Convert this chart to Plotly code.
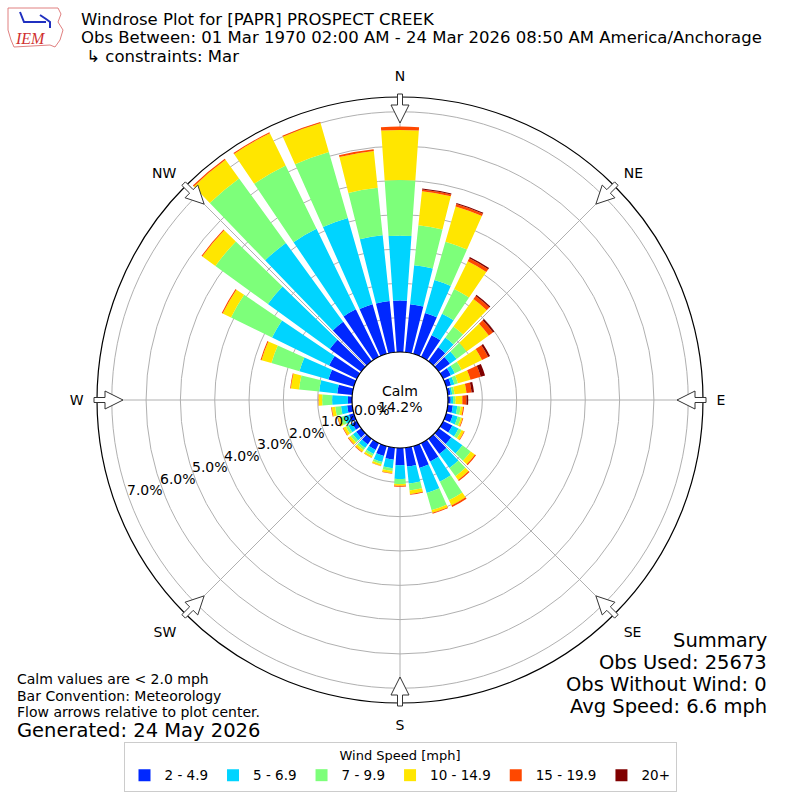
"""Windrose for PAPR (Prospect Creek), March obs, redrawn with plotly barpolar."""
import numpy as np
import plotly.graph_objects as go

W = H = 800
CX, CY = 400, 400        # plot centre, px
R_OUT, R_HOLE = 303, 48  # outer circle and calm hole radius, px

directions = list(range(0, 360, 10))
bins = ["2 - 4.9", "5 - 6.9", "7 - 9.9", "10 - 14.9", "15 - 19.9", "20+"]
colors = ["#0028ff", "#00d4ff", "#7dff7a", "#ffe600", "#ff4800", "#800000"]

# percent of obs in each speed bin, one value per 10 deg direction (0 = N)
spd_2_5 = [1.50, 1.41, 1.24, 0.70, 0.50, 0.40, 0.25, 0.15, 0.08, 0.08, 0.15, 0.20,
           0.30, 0.45, 0.55, 0.60, 0.66, 0.55, 0.50, 0.35, 0.30, 0.22, 0.20, 0.18,
           0.15, 0.15, 0.15, 0.12, 0.44, 0.77, 0.90, 1.13, 1.42, 1.54, 1.50, 1.50]
spd_5_7 = [1.89, 1.14, 1.00, 0.70, 0.35, 0.24, 0.13, 0.10, 0.05, 0.07, 0.13, 0.15,
           0.20, 0.40, 0.50, 0.65, 0.76, 0.50, 0.40, 0.25, 0.18, 0.13, 0.13, 0.12,
           0.13, 0.15, 0.18, 0.46, 0.53, 0.88, 1.85, 2.23, 2.84, 2.61, 2.62, 1.93]
spd_7_10 = [1.62, 1.17, 1.16, 0.80, 0.40, 0.36, 0.22, 0.11, 0.07, 0.07, 0.10, 0.10,
            0.10, 0.30, 0.30, 0.60, 0.52, 0.20, 0.15, 0.08, 0.07, 0.07, 0.07, 0.08,
            0.08, 0.10, 0.17, 0.29, 0.59, 0.85, 1.33, 1.89, 2.32, 2.05, 2.00, 1.39]
spd_10_15 = [1.46, 1.00, 1.07, 0.90, 0.99, 0.80, 0.66, 0.38, 0.35, 0.20, 0.07, 0.05,
             0.08, 0.15, 0.13, 0.17, 0.08, 0.11, 0.05, 0.07, 0.05, 0.05, 0.07, 0.08,
             0.08, 0.08, 0.10, 0.10, 0.24, 0.30, 0.27, 0.47, 0.67, 1.05, 0.88, 1.08]
spd_15_20 = [0.10, 0.05, 0.07, 0.10, 0.11, 0.15, 0.20, 0.31, 0.15, 0.12, 0.03, 0.02,
             0.02, 0.04, 0.04, 0.05, 0.03, 0.02, 0.03, 0.01, 0.01, 0.01, 0.02, 0.02,
             0.02, 0.02, 0.02, 0.01, 0.02, 0.03, 0.03, 0.03, 0.04, 0.03, 0.03, 0.05]
spd_20p = [0.00, 0.03, 0.03, 0.04, 0.04, 0.05, 0.06, 0.13, 0.07, 0.05, 0.00, 0.00,
           0.00, 0.00, 0.00, 0.00, 0.00, 0.00, 0.00, 0.00, 0.00, 0.00, 0.00, 0.00,
           0.00, 0.00, 0.00, 0.00, 0.00, 0.00, 0.00, 0.00, 0.00, 0.00, 0.00, 0.00]
series = [spd_2_5, spd_5_7, spd_7_10, spd_10_15, spd_15_20, spd_20p]

calm_pct = 14.2
rticks = [0, 1, 2, 3, 4, 5, 6, 7]
rmax = 7.43
compass = ["N", "NE", "E", "SE", "S", "SW", "W", "NW"]
compass_deg = [0, 45, 90, 135, 180, 225, 270, 315]

FONT = "DejaVu Sans"


def px(x):
    return x / W


def py(y):
    return 1 - y / H


def pathstr(pts):
    return "M " + " L ".join(f"{px(x):.5f},{py(y):.5f}" for x, y in pts)


fig = go.Figure()
for name, vals, col in zip(bins, series, colors):
    fig.add_trace(go.Barpolar(r=vals, theta=directions, width=8, name=name,
                              marker=dict(color=col, line=dict(width=0))))

dom = [px(CX - R_OUT), px(CX + R_OUT)]
fig.update_layout(
    width=W, height=H, margin=dict(l=0, r=0, t=0, b=0),
    paper_bgcolor="white", font=dict(family=FONT, color="black"),
    polar=dict(
        domain=dict(x=dom, y=dom), hole=R_HOLE / R_OUT, bgcolor="white",
        barmode="stack", bargap=0,
        radialaxis=dict(range=[0, rmax], tickvals=rticks, showticklabels=False,
                        showline=False, ticks="", gridcolor="#b0b0b0", gridwidth=1),
        angularaxis=dict(rotation=90, direction="clockwise", tickvals=compass_deg,
                         ticktext=compass, showline=True, linecolor="black",
                         linewidth=1.2, gridcolor="#b0b0b0", gridwidth=1,
                         ticks="outside", ticklen=10, tickcolor="rgba(0,0,0,0)",
                         tickfont=dict(size=14, family=FONT)),
    ),
    legend=dict(orientation="h", x=0.5, xanchor="center", y=py(742), yanchor="top",
                bgcolor="white", bordercolor="#cccccc", borderwidth=1,
                title=dict(text="Wind Speed [mph]", side="top center",
                           font=dict(size=13)),
                font=dict(size=13.5), itemwidth=30),
)

# hollow flow arrows at the compass points, pointing inwards
shapes = []
for d in compass_deg:
    a = np.radians(d)
    u = np.array([np.sin(a), -np.cos(a)])
    p = np.array([np.cos(a), np.sin(a)])
    c = np.array([CX, CY])
    pts = [c + u * 306 - p * 2.5, c + u * 295 - p * 2.5, c + u * 295 - p * 9,
           c + u * 277, c + u * 295 + p * 9, c + u * 295 + p * 2.5,
           c + u * 306 + p * 2.5]
    shapes.append(dict(type="path", xref="paper", yref="paper", path=pathstr(pts) + " Z",
                       fillcolor="white", line=dict(color="#333333", width=1)))

# rough IEM logo: state outline plus a little blue station symbol
logo = [(8, 8), (58, 8), (61, 14), (58, 22), (63, 30), (60, 40), (55, 47), (50, 45),
        (14, 47), (11, 40), (8, 30), (8, 8)]
shapes.append(dict(type="path", xref="paper", yref="paper", path=pathstr(logo) + " Z",
                   line=dict(color="#e08080", width=1)))
shapes.append(dict(type="path", xref="paper", yref="paper",
                   path=pathstr([(20, 12), (24, 22), (46, 22)]),
                   line=dict(color="#2030c0", width=2)))
shapes.append(dict(type="path", xref="paper", yref="paper",
                   path=pathstr([(40, 15), (46, 19), (50, 22), (50, 28)]),
                   line=dict(color="#2030c0", width=2)))
fig.update_layout(shapes=shapes)


def note(text, x, y, size, xanchor="left", **kw):
    fig.add_annotation(text=text, x=px(x), y=py(y), xref="paper", yref="paper",
                       xanchor=xanchor, yanchor="middle", showarrow=False, borderpad=0,
                       font=dict(size=size, family=kw.pop("family", FONT),
                                 color=kw.pop("color", "black")), **kw)


# radial tick labels, placed along the 200 deg line like matplotlib does
for t in rticks:
    rpx = R_HOLE + (R_OUT - R_HOLE) * t / rmax - 18
    ang = np.radians(19.5)
    note(f"{t:.1f}%", CX - rpx * np.cos(ang), CY + rpx * np.sin(ang), 14,
         xanchor="center")

note("Windrose Plot for [PAPR] PROSPECT CREEK", 80, 19, 16.5)
note("Obs Between: 01 Mar 1970 02:00 AM - 24 Mar 2026 08:50 AM America/Anchorage", 80, 37.5, 16.5)
note(" ↳ constraints: Mar", 80, 56, 16.5)
note("<i>IEM</i>", 30, 39, 16, xanchor="center", family="Liberation Serif", color="#d03030")

note("Calm", 400, 391, 14, xanchor="center")
note(f"{calm_pct:.1f}%", 400, 407, 14, xanchor="center")

note("Calm values are < 2.0 mph", 16, 679, 14)
note("Bar Convention: Meteorology", 16, 696, 14)
note("Flow arrows relative to plot center.", 16, 712, 14)
note("Generated: 24 May 2026", 16, 730, 19.5)

note("Summary", 768, 640, 19.5, xanchor="right")
note("Obs Used: 25673", 768, 662, 19.5, xanchor="right")
note("Obs Without Wind: 0", 768, 684, 19.5, xanchor="right")
note("Avg Speed: 6.6 mph", 768, 706, 19.5, xanchor="right")

fig.write_html("out.html", config={"displayModeBar": False},
               post_script="document.body.style.margin='0px';")
